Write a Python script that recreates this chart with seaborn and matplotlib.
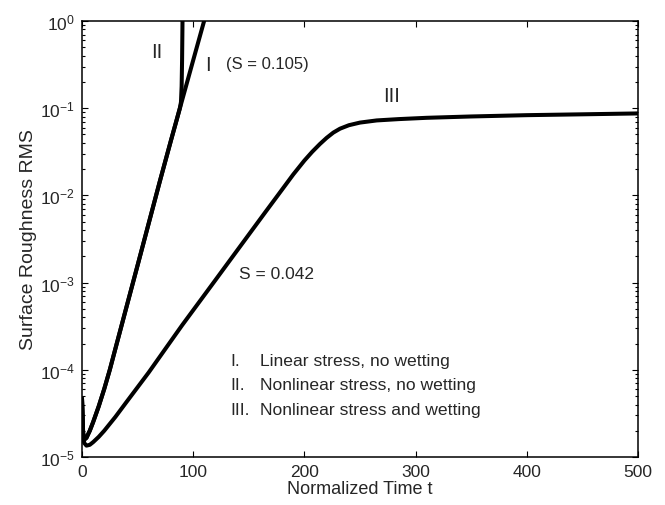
import numpy as np
import pandas as pd
import matplotlib
matplotlib.use("Agg")
import matplotlib.pyplot as plt
import matplotlib.ticker as mticker
import seaborn as sns

# ---- data ----
t_I = [0, 1, 2, 4, 7, 10, 15, 20, 25, 30, 35, 40, 50, 60, 70, 80, 90, 100, 110]
rms_I = [4.68e-5, 1.91e-5, 1.58e-5, 1.66e-5, 2.00e-5, 2.51e-5, 3.80e-5, 6.03e-5,
         1.00e-4, 1.74e-4, 3.02e-4, 5.25e-4, 1.58e-3, 4.79e-3, 1.45e-2, 4.27e-2,
         0.123, 0.355, 1.02]

t_II = [0, 1, 2, 4, 7, 10, 15, 20, 25, 30, 35, 40, 50, 60, 70, 80, 85, 88, 89,
        89.6, 90.0, 90.3, 90.6]
rms_II = [4.68e-5, 1.91e-5, 1.58e-5, 1.66e-5, 2.00e-5, 2.51e-5, 3.80e-5, 6.03e-5,
          1.00e-4, 1.74e-4, 3.02e-4, 5.25e-4, 1.58e-3, 4.79e-3, 1.45e-2, 4.27e-2,
          0.0724, 0.100, 0.1175, 0.178, 0.355, 0.794, 2.0]

t_III = [0, 1, 2, 4, 7, 10, 15, 20, 25, 30, 40, 50, 60, 75, 90, 105, 120, 135,
         150, 165, 180, 190, 200, 207, 214, 220, 226, 232, 240, 250, 265, 285,
         310, 350, 400, 450, 500]
rms_III = [4.68e-5, 1.78e-5, 1.45e-5, 1.35e-5, 1.38e-5, 1.48e-5, 1.70e-5, 2.00e-5,
           2.40e-5, 2.88e-5, 4.27e-5, 6.31e-5, 9.33e-5, 1.74e-4, 3.24e-4, 5.89e-4,
           1.07e-3, 1.95e-3, 3.55e-3, 6.46e-3, 1.17e-2, 1.74e-2, 2.51e-2, 3.16e-2,
           3.89e-2, 4.57e-2, 5.25e-2, 5.82e-2, 6.38e-2, 6.84e-2, 7.24e-2, 7.50e-2,
           7.76e-2, 8.04e-2, 8.32e-2, 8.51e-2, 8.71e-2]

x_ticks = [0, 100, 200, 300, 400, 500]
legend_numerals = ["I.", "II.", "III."]
legend_texts = ["Linear stress, no wetting", "Nonlinear stress, no wetting",
                "Nonlinear stress and wetting"]

df = pd.concat([
    pd.DataFrame({"t": t_I, "rms": rms_I, "case": "I"}),
    pd.DataFrame({"t": t_II, "rms": rms_II, "case": "II"}),
    pd.DataFrame({"t": t_III, "rms": rms_III, "case": "III"}),
], ignore_index=True)

sns.set_style("ticks")
plt.rcParams["font.family"] = ["Liberation Sans", "DejaVu Sans"]
plt.rcParams["mathtext.fontset"] = "custom"
plt.rcParams["mathtext.rm"] = "Liberation Sans"
plt.rcParams["mathtext.it"] = "Liberation Sans:italic"
plt.rcParams["mathtext.bf"] = "Liberation Sans:bold"

fig = plt.figure(figsize=(6.65, 5.06), dpi=100)
ax = fig.add_axes([82 / 665, 1 - 458 / 506, (638 - 82) / 665, (458 - 22) / 506])

for case in ["I", "II", "III"]:
    sns.lineplot(data=df[df["case"] == case], x="t", y="rms", color="black",
                 linewidth=2.9, ax=ax, sort=False, estimator=None, legend=False,
                 solid_joinstyle="round", solid_capstyle="round")

ax.set_yscale("log")
ax.set_xlim(0, 500)
ax.set_ylim(1e-5, 1)
ax.set_xticks(x_ticks)
ax.xaxis.set_minor_locator(mticker.NullLocator())
ax.yaxis.set_major_locator(mticker.LogLocator(base=10, numticks=10))
ax.yaxis.set_minor_locator(mticker.LogLocator(base=10, subs=np.arange(2, 10), numticks=100))
ax.yaxis.set_minor_formatter(mticker.NullFormatter())

ax.tick_params(which="both", direction="in", top=True, right=True, labelsize=12.5,
               color="black", width=0.8)
ax.tick_params(which="major", length=4.5, pad=5)
ax.tick_params(which="minor", length=2.5)
for s in ax.spines.values():
    s.set_linewidth(1.1)
    s.set_color("black")

ax.set_xlabel("Normalized Time t", fontsize=13, labelpad=1)
ax.set_ylabel("Surface Roughness RMS", fontsize=14, labelpad=2)

ax.text(67, 10 ** -0.35, "II", fontsize=14.5, ha="center", va="center")
ax.text(113.6, 10 ** -0.5, "I", fontsize=14.5, ha="center", va="center")
ax.text(166.8, 10 ** -0.49, "(S = 0.105)", fontsize=12, ha="center", va="center")
ax.text(278.8, 10 ** -0.857, "III", fontsize=14.5, ha="center", va="center")
ax.text(175, 10 ** -2.89, "S = 0.042", fontsize=12.5, ha="center", va="center")

leg_y = [10 ** -3.888, 10 ** -4.174, 10 ** -4.45]
for num, txt, yy in zip(legend_numerals, legend_texts, leg_y):
    ax.text(133, yy, num, fontsize=12.6, ha="left", va="center")
    ax.text(160, yy, txt, fontsize=12.6, ha="left", va="center")

fig.savefig("out.png", dpi=100)
